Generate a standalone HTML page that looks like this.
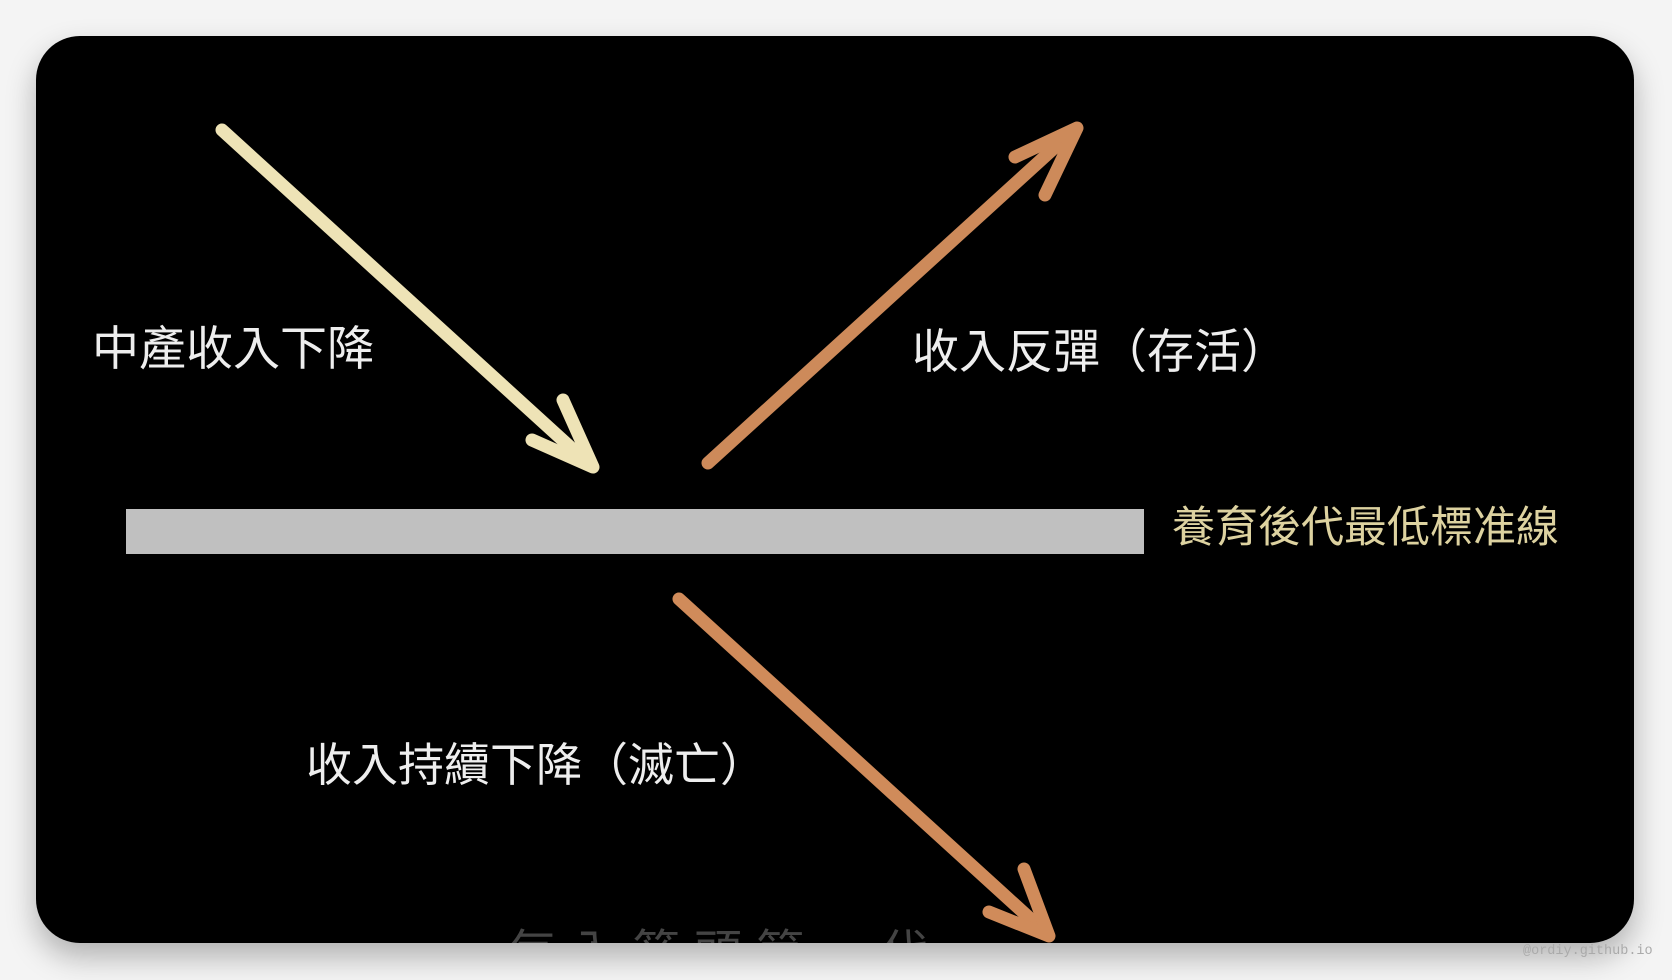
<!DOCTYPE html>
<html><head><meta charset="utf-8"><style>
html,body{margin:0;padding:0;width:1672px;height:980px;overflow:hidden;background:#f4f4f4;}
.panel{position:absolute;left:36px;top:36px;width:1598px;height:907px;background:#000;border-radius:44px;overflow:hidden;box-shadow:0 14px 30px rgba(0,0,0,0.28);}
.t{position:absolute;font-family:"Liberation Sans","Noto Sans CJK TC",sans-serif;white-space:nowrap;line-height:1;}
.wm{position:absolute;left:1523px;top:944px;font-family:"Liberation Mono",monospace;font-size:13.5px;color:#aaa;}
</style></head><body>
<div class="panel">
<svg width="1598" height="907" style="position:absolute;left:0;top:0" viewBox="36 36 1598 907">
<rect x="126" y="509" width="1018" height="45" fill="#c0c0c0"/>
<g fill="none" stroke-linecap="round" stroke-linejoin="round">
<g stroke="#eee3b6" stroke-width="13">
<line x1="222" y1="130" x2="590" y2="465"/>
<polyline points="532,440 593,467 563,400"/>
</g>
<g stroke="#cd8a5a" stroke-width="13">
<line x1="708" y1="463" x2="1074" y2="130"/>
<polyline points="1015,157 1077,128 1045,195"/>
</g>
<g stroke="#d08b5a" stroke-width="13">
<line x1="679" y1="599" x2="1046" y2="933"/>
<polyline points="989,912 1049,936 1024,869"/>
</g>
</g>
</svg>
<div class="t" style="left:56px;top:289px;font-size:47px;color:#eee;">中產收入下降</div>
<div class="t" style="left:876px;top:292px;font-size:47px;color:#eee;">收入反彈（存活）</div>
<div class="t" style="left:1136px;top:471px;font-size:43px;color:#ddd2a0;">養育後代最低標准線</div>
<div class="t" style="left:270px;top:706px;font-size:46px;color:#eee;">收入持續下降（滅亡）</div>
<div class="t" style="left:472px;top:894px;font-size:48px;color:#444;letter-spacing:14px;">每入箭頭第一代</div>
</div>
<div class="wm">@ordiy.github.io</div>
</body></html>
